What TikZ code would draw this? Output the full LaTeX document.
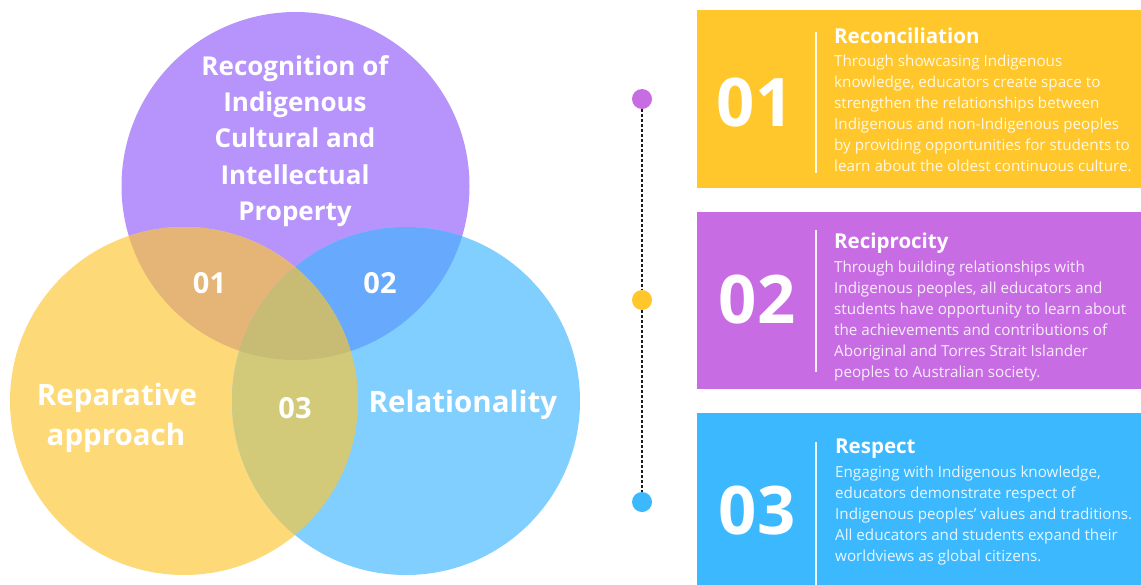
\documentclass[tikz,border=0pt]{standalone}
\usepackage{fontspec}
\setmainfont{Open Sans}
\definecolor{purpleC}{HTML}{B794FC}
\definecolor{yellowC}{HTML}{FDD977}
\definecolor{blueC}{HTML}{80CFFF}
\definecolor{pyC}{HTML}{E4B577}
\definecolor{pbC}{HTML}{66A9FD}
\definecolor{ybC}{HTML}{D3CA79}
\definecolor{pybC}{HTML}{C8BB74}
\definecolor{boxY}{HTML}{FFC72C}
\definecolor{boxP}{HTML}{C86CE4}
\definecolor{boxB}{HTML}{3BB8FE}
\definecolor{dotline}{HTML}{1A1A1A}
\tikzset{
  vlabel/.style={font=\fontsize{26}{30}\selectfont\bfseries, text=white, inner sep=0pt, anchor=base},
  biglabel/.style={vlabel, font=\fontsize{29.5}{30}\selectfont\bfseries},
  numlabel/.style={vlabel, font=\fontsize{29}{30}\selectfont\bfseries},
  bignum/.style={font=\fontsize{67}{70}\selectfont\bfseries, text=white, inner sep=0pt},
  boxtitle/.style={font=\fontsize{20.5}{24}\selectfont\bfseries, text=white, inner sep=0pt, anchor=base west},
  bodyline/.style={font=\fontsize{15.2}{21}\selectfont, text=white, text opacity=0.88, inner sep=0pt, anchor=base west},
  sepline/.style={white, line width=2pt, opacity=0.9},
  tdot/.style={circle, minimum size=20pt, inner sep=0pt},
  tline/.style={dotline, line width=2.4pt, dash pattern=on 2.4pt off 2.6pt}
}
\begin{document}
\begin{tikzpicture}[x=1pt,y=-1pt]
\useasboundingbox (0,0) rectangle (1141,584);
\clip (0,0) rectangle (1141,584);
\fill[white] (0,0) rectangle (1141,584);
% Venn circles
\def\R{174pt}
\coordinate (cp) at (295.5,186);
\coordinate (cy) at (184,401);
\coordinate (cb) at (406,401);
\fill[purpleC] (cp) circle[radius=\R];
\fill[yellowC] (cy) circle[radius=\R];
\fill[blueC] (cb) circle[radius=\R];
\begin{scope}
  \clip (cp) circle[radius=\R];
  \fill[pyC] (cy) circle[radius=\R];
  \fill[pbC] (cb) circle[radius=\R];
\end{scope}
\begin{scope}
  \clip (cy) circle[radius=\R];
  \fill[ybC] (cb) circle[radius=\R];
\end{scope}
\begin{scope}
  \clip (cp) circle[radius=\R];
  \clip (cy) circle[radius=\R];
  \fill[pybC] (cb) circle[radius=\R];
\end{scope}
% Venn labels
\node[vlabel] (p1) at (295,75) {Recognition of};
\node[vlabel] (p2) at (295,111) {Indigenous};
\node[vlabel] (p3) at (295,147) {Cultural and};
\node[vlabel] (p4) at (295,184) {Intellectual};
\node[vlabel] (p5) at (295,220) {Property};
\node[biglabel] (y1) at (117,405) {Reparative};
\node[biglabel] (y2) at (116,445) {approach};
\node[biglabel] (b1) at (463,412) {Relationality};
\node[numlabel] (n01) at (209.5,293) {01};
\node[numlabel] (n02) at (380,293) {02};
\node[numlabel] (n03) at (295,418) {03};
% timeline
\node[tdot, fill=boxP] (d1) at (642,99) {};
\node[tdot, fill=boxY] (d2) at (642,300) {};
\node[tdot, fill=boxB] (d3) at (642,502) {};
\draw[tline] (d1) -- (d2);
\draw[tline] (d2) -- (d3);
% boxes
\fill[boxY] (697,10) rectangle (1145,188);
\fill[boxP] (697,212) rectangle (1145,389);
\fill[boxB] (697,413) rectangle (1145,600);
\draw[sepline] (816,32) -- (816,173);
\draw[sepline] (816,230) -- (816,372);
\draw[sepline] (816,442) -- (816,590);
\node[bignum] (bn1) at (755,103) {01};
\node[bignum] (bn2) at (757,300) {02};
\node[bignum] (bn3) at (757,511) {03};
% box 1
\node[boxtitle] (t1) at (834,43) {Reconciliation};
\foreach \t [count=\i from 0] in {
  {Through showcasing Indigenous},
  {knowledge, educators create space to},
  {strengthen the relationships between},
  {Indigenous and non-Indigenous peoples},
  {by providing opportunities for students to},
  {learn about the oldest continuous culture.}}
  \node[bodyline] (l1-\i) at (834,66+21*\i) {\t};
% box 2
\node[boxtitle] (t2) at (834,248) {Reciprocity};
\foreach \t [count=\i from 0] in {
  {Through building relationships with},
  {Indigenous peoples, all educators and},
  {students have opportunity to learn about},
  {the achievements and contributions of},
  {Aboriginal and Torres Strait Islander},
  {peoples to Australian society.}}
  \node[bodyline] (l2-\i) at (834,272+21*\i) {\t};
% box 3
\node[boxtitle] (t3) at (835,453) {Respect};
\foreach \t [count=\i from 0] in {
  {Engaging with Indigenous knowledge,},
  {educators demonstrate respect of},
  {Indigenous peoples’ values and traditions.},
  {All educators and students expand their},
  {worldviews as global citizens.}}
  \node[bodyline] (l3-\i) at (835,477+21*\i) {\t};
\end{tikzpicture}
\end{document}
